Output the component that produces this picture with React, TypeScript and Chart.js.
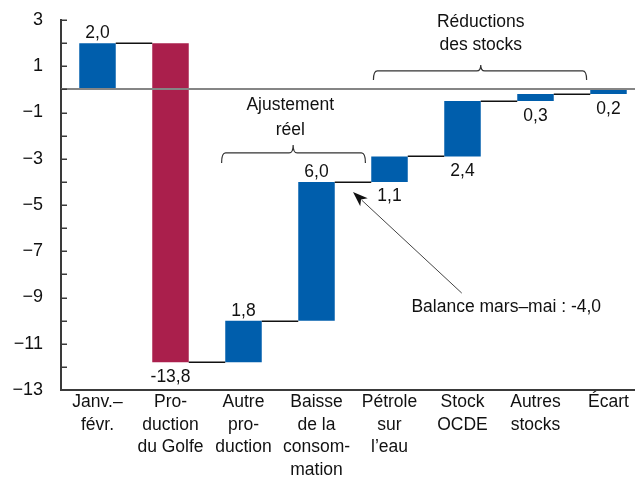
import { useEffect, useRef } from 'react';
import { Chart, registerables } from 'chart.js';

Chart.register(...registerables);

const FONT = '"Liberation Sans", Arial, sans-serif';
const FS = 17.5;

// ---- data ----
const categories: string[][] = [
  ['Janv.–', 'févr.'],
  ['Pro-', 'duction', 'du Golfe'],
  ['Autre', 'pro-', 'duction'],
  ['Baisse', 'de la', 'consom-', 'mation'],
  ['Pétrole', 'sur', 'l’eau'],
  ['Stock', 'OCDE'],
  ['Autres', 'stocks'],
  ['Écart'],
];
const changes = [2.0, -13.8, 1.8, 6.0, 1.1, 2.4, 0.3, 0.2];
const valueLabels = ['2,0', '-13,8', '1,8', '6,0', '1,1', '2,4', '0,3', '0,2'];
const labelSide = ['above', 'below', 'above', 'above', 'below', 'below', 'below', 'below'];
const barKinds = ['base', 'shock', 'adj', 'adj', 'adj', 'adj', 'adj', 'adj'];
const yMin = -13;
const yMax = 3;

// annotations (data space: category index, value)
const braces = [
  { lines: ['Ajustement', 'réel'], from: 1.7, to: 3.67, mid: 2.68, y: -2.75, textX: 2.64, textY: [-0.68, -1.76] },
  { lines: ['Réductions', 'des stocks'], from: 3.78, to: 6.7, mid: 5.25, y: 0.8, textX: 5.25, textY: [2.91, 1.92] },
];
const arrowNote = { text: 'Balance mars–mai : -4,0', from: [4.99, -8.81], to: [3.5, -4.44], textAt: [4.3, -9.41] };

// ---- styles ----
const BLUE = '#005EAC';
const RED = '#AA1F4C';
const AXIS = '#3a3a3a';
const colorFor: Record<string, string> = { base: BLUE, shock: RED, adj: BLUE };

// derived floating bars
const starts: number[] = [];
const ends: number[] = [];
{
  let acc = 0;
  for (const c of changes) {
    starts.push(acc);
    acc = Math.round((acc + c) * 10) / 10;
    ends.push(acc);
  }
}

function drawBrace(ctx: CanvasRenderingContext2D, x1: number, x2: number, xm: number, yb: number, hook: number, tip: number) {
  const r = 4;
  ctx.beginPath();
  ctx.moveTo(x1, yb + hook);
  ctx.quadraticCurveTo(x1, yb, x1 + r, yb);
  ctx.lineTo(xm - r, yb);
  ctx.quadraticCurveTo(xm, yb, xm, yb - tip);
  ctx.quadraticCurveTo(xm, yb, xm + r, yb);
  ctx.lineTo(x2 - r, yb);
  ctx.quadraticCurveTo(x2, yb, x2, yb + hook);
  ctx.stroke();
}

const waterfallPlugin = {
  id: 'waterfallExtras',
  afterDatasetsDraw(chart: any) {
    const { ctx, chartArea, scales } = chart;
    const x = scales.x;
    const y = scales.y;
    const meta = chart.getDatasetMeta(0);
    ctx.save();

    // zero line
    const y0 = Math.round(y.getPixelForValue(0));
    ctx.strokeStyle = '#858585';
    ctx.lineWidth = 2;
    ctx.beginPath();
    ctx.moveTo(chartArea.left, y0);
    ctx.lineTo(chartArea.right, y0);
    ctx.stroke();

    // connectors
    ctx.strokeStyle = '#111';
    ctx.lineWidth = 1.5;
    for (let i = 0; i < meta.data.length - 1; i++) {
      const a = meta.data[i];
      const b = meta.data[i + 1];
      const yy = Math.round(y.getPixelForValue(ends[i])) + 0.25;
      ctx.beginPath();
      ctx.moveTo(a.x + a.width / 2, yy);
      ctx.lineTo(b.x - b.width / 2, yy);
      ctx.stroke();
    }

    // value labels
    ctx.fillStyle = '#111';
    ctx.font = `${FS}px ${FONT}`;
    ctx.textAlign = 'center';
    for (let i = 0; i < meta.data.length; i++) {
      const bar = meta.data[i];
      const top = Math.min(bar.y, bar.base);
      const bottom = Math.max(bar.y, bar.base);
      if (labelSide[i] === 'above') {
        ctx.textBaseline = 'alphabetic';
        ctx.fillText(valueLabels[i], bar.x, top - 5);
      } else {
        ctx.textBaseline = 'top';
        ctx.fillText(valueLabels[i], bar.x, bottom + 6);
      }
    }

    // braces + texts
    ctx.strokeStyle = '#333';
    ctx.lineWidth = 1.2;
    ctx.textBaseline = 'middle';
    braces.forEach((b, bi) => {
      drawBrace(
        ctx,
        x.getPixelForValue(b.from),
        x.getPixelForValue(b.to),
        x.getPixelForValue(b.mid),
        y.getPixelForValue(b.y),
        bi === 0 ? 10 : 9,
        bi === 0 ? 8 : 6,
      );
      b.lines.forEach((t, li) => {
        ctx.fillText(t, x.getPixelForValue(b.textX), y.getPixelForValue(b.textY[li]));
      });
    });

    // arrow
    const sx = x.getPixelForValue(arrowNote.from[0]);
    const sy = y.getPixelForValue(arrowNote.from[1]);
    const tx = x.getPixelForValue(arrowNote.to[0]);
    const ty = y.getPixelForValue(arrowNote.to[1]);
    const ang = Math.atan2(ty - sy, tx - sx);
    const hl = 15;
    const hw = 5.5;
    const bx = tx - hl * Math.cos(ang);
    const by = ty - hl * Math.sin(ang);
    ctx.strokeStyle = '#444';
    ctx.lineWidth = 1;
    ctx.beginPath();
    ctx.moveTo(sx, sy);
    ctx.lineTo(bx + 3 * Math.cos(ang), by + 3 * Math.sin(ang));
    ctx.stroke();
    ctx.fillStyle = '#111';
    ctx.beginPath();
    ctx.moveTo(tx, ty);
    ctx.lineTo(bx + hw * Math.sin(ang), by - hw * Math.cos(ang));
    ctx.lineTo(bx + 4 * Math.cos(ang), by + 4 * Math.sin(ang));
    ctx.lineTo(bx - hw * Math.sin(ang), by + hw * Math.cos(ang));
    ctx.closePath();
    ctx.fill();

    ctx.textAlign = 'left';
    ctx.fillText(arrowNote.text, x.getPixelForValue(arrowNote.textAt[0]), y.getPixelForValue(arrowNote.textAt[1]));

    // inner y ticks
    ctx.strokeStyle = AXIS;
    ctx.lineWidth = 1.5;
    for (let v = yMin; v <= yMax; v++) {
      const py = Math.round(y.getPixelForValue(v)) + 0.25;
      ctx.beginPath();
      ctx.moveTo(chartArea.left, py);
      ctx.lineTo(chartArea.left + 6, py);
      ctx.stroke();
    }
    ctx.restore();
  },
};

export default function App() {
  const ref = useRef<HTMLCanvasElement | null>(null);
  useEffect(() => {
    if (!ref.current) return;
    const chart = new Chart(ref.current, {
      type: 'bar',
      data: {
        labels: categories,
        datasets: [
          {
            data: starts.map((s, i) => [s, ends[i]]) as any,
            backgroundColor: barKinds.map((k) => colorFor[k]),
            borderWidth: 0,
            barPercentage: 0.5,
            categoryPercentage: 1,
          },
        ],
      },
      options: {
        responsive: false,
        animation: false,
        layout: { padding: { top: 20, left: 0, right: 0, bottom: 0 } },
        plugins: { legend: { display: false }, tooltip: { enabled: false } },
        scales: {
          x: {
            grid: { display: false, drawTicks: false },
            border: { display: true, color: AXIS, width: 2 },
            ticks: {
              color: '#111',
              font: { family: FONT, size: FS, lineHeight: 22.5 / FS },
              padding: 1,
              autoSkip: false,
              maxRotation: 0,
              minRotation: 0,
            },
            afterFit: (s: any) => {
              s.height = 98;
            },
          },
          y: {
            min: yMin,
            max: yMax,
            grid: { display: false, drawTicks: false },
            border: { display: true, color: AXIS, width: 2 },
            ticks: {
              stepSize: 1,
              autoSkip: false,
              color: '#111',
              padding: 18,
              font: { family: FONT, size: 18 },
              callback: (v: any) => {
                const n = Number(v);
                if (Math.abs(n) % 2 !== 1) return '';
                return n < 0 ? '−' + Math.abs(n) : String(n);
              },
            },
            afterFit: (s: any) => {
              s.width = 61;
              s.paddingTop = 10;
              s.paddingBottom = 10;
            },
          },
        },
      },
      plugins: [waterfallPlugin],
    });
    return () => chart.destroy();
  }, []);

  return (
    <div
      style={{
        position: 'fixed',
        left: 0,
        top: 0,
        width: 635,
        height: 488,
        overflow: 'hidden',
        background: '#fff',
      }}
    >
      <canvas ref={ref} width={645} height={488} style={{ display: 'block' }} />
    </div>
  );
}
